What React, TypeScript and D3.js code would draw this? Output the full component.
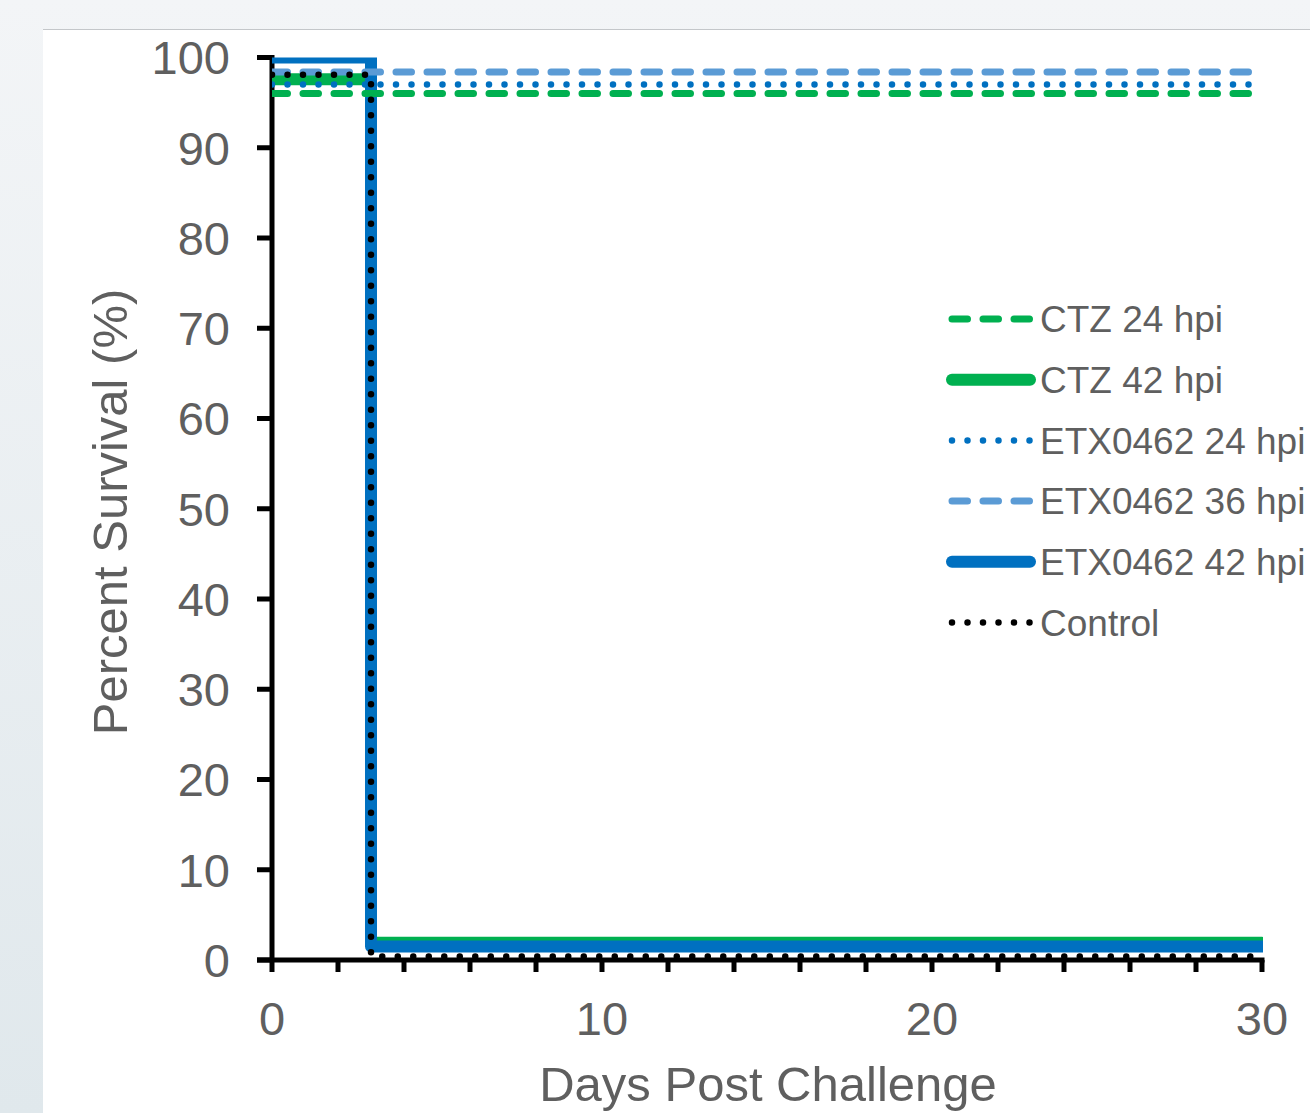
import * as d3 from "d3";
import { useEffect, useRef } from "react";

// survival data (day, percent)
const ctz24Days = [0, 30];
const ctz24Surv = [96.0, 96.0];
const ctz42Days = [0, 3, 30];
const ctz42Surv = [97.6, 1.9, 1.9];
const etx24Days = [0, 30];
const etx24Surv = [97.0, 97.0];
const etx36Days = [0, 30];
const etx36Surv = [98.4, 98.4];
const etx42Days = [0, 3, 30];
const etx42Surv = [100, 1.5, 1.5];
const controlDays = [0, 3, 30];
const controlSurv = [98.1, 0.4, 0.4];

const legendLabels = ["CTZ 24 hpi", "CTZ 42 hpi", "ETX0462 24 hpi", "ETX0462 36 hpi", "ETX0462 42 hpi", "Control"];
const yTicks = [0, 10, 20, 30, 40, 50, 60, 70, 80, 90, 100];
const xTickLabels = [0, 10, 20, 30];
const xMinorTicks = d3.range(0, 31, 2);

const FONT = "'Liberation Sans', Arial, sans-serif";
const GREEN = "#00B050";
const BLUE = "#0070C0";
const LIGHT_BLUE = "#5B9BD5";
const TEXT = "#5f5f5f";

const App = () => {
    const ref = useRef<SVGSVGElement>(null);

    useEffect(() => {
        renderChart(ref.current);
    }, []);

    return (
        <div>
            <style>{`body{margin:0}`}</style>
            <svg ref={ref} width="1310" height="1113" style={{ display: "block" }} />
        </div>
    );
};

const renderChart = (node: SVGSVGElement | null) => {
    if (!node) return;
    const svg = d3.select(node);
    svg.selectAll("*").remove();

    const left = 272, right = 1262, top = 57.5, bottom = 960;

    // page background + white panel
    const defs = svg.append("defs");
    const grad = defs.append("linearGradient").attr("id", "bg").attr("x1", 0).attr("y1", 0).attr("x2", 0).attr("y2", 1);
    grad.append("stop").attr("offset", "0%").attr("stop-color", "#f3f5f7");
    grad.append("stop").attr("offset", "100%").attr("stop-color", "#e0e8ec");
    svg.append("rect").attr("width", 1310).attr("height", 1113).attr("fill", "url(#bg)");
    svg.append("rect").attr("x", 43).attr("y", 30).attr("width", 1267).attr("height", 1083).attr("fill", "#fff");
    svg.append("line").attr("x1", 43).attr("x2", 1310).attr("y1", 29.5).attr("y2", 29.5)
        .attr("stroke", "#c4c7ca").attr("stroke-width", 1);

    defs.append("clipPath").attr("id", "plot-clip")
        .append("rect").attr("x", left).attr("y", top).attr("width", right - left + 1).attr("height", bottom - top);

    const x = d3.scaleLinear().domain([0, 30]).range([left, right]);
    const y = d3.scaleLinear().domain([0, 100]).range([bottom, top]);

    // axes
    const axisG = svg.append("g");
    axisG.append("line").attr("x1", left).attr("x2", left).attr("y1", 55).attr("y2", bottom + 2)
        .attr("stroke", "#000").attr("stroke-width", 5);
    axisG.append("line").attr("x1", 257).attr("x2", right + 2.5).attr("y1", bottom).attr("y2", bottom)
        .attr("stroke", "#000").attr("stroke-width", 5);

    axisG.selectAll(".ytick").data(yTicks).enter().append("line")
        .attr("x1", 257).attr("x2", left).attr("y1", d => y(d)).attr("y2", d => y(d))
        .attr("stroke", "#000").attr("stroke-width", 5);

    axisG.selectAll(".xtick").data(xMinorTicks).enter().append("line")
        .attr("x1", d => x(d)).attr("x2", d => x(d)).attr("y1", bottom).attr("y2", bottom + 12)
        .attr("stroke", "#000").attr("stroke-width", 5);

    axisG.selectAll(".ylab").data(yTicks).enter().append("text")
        .attr("x", 230).attr("y", d => y(d)).attr("dy", "0.36em")
        .attr("text-anchor", "end").attr("font-family", FONT).attr("font-size", 47).attr("fill", TEXT)
        .text(d => d);

    axisG.selectAll(".xlab").data(xTickLabels).enter().append("text")
        .attr("x", d => x(d)).attr("y", 1035)
        .attr("text-anchor", "middle").attr("font-family", FONT).attr("font-size", 47).attr("fill", TEXT)
        .text(d => d);

    svg.append("text").attr("x", 768).attr("y", 1101).attr("text-anchor", "middle")
        .attr("font-family", FONT).attr("font-size", 49).attr("fill", TEXT)
        .text("Days Post Challenge");

    svg.append("text").attr("transform", "translate(127,512) rotate(-90)").attr("text-anchor", "middle")
        .attr("font-family", FONT).attr("font-size", 49).attr("fill", TEXT)
        .text("Percent Survival (%)");

    // series, in drawing order
    const styles = [
        { days: ctz42Days, surv: ctz42Surv, color: GREEN, width: 12, dash: null, label: 1 },
        { days: etx42Days, surv: etx42Surv, color: BLUE, width: 12, dash: null, label: 4 },
        { days: ctz24Days, surv: ctz24Surv, color: GREEN, width: 7, dash: "15.5 15.5", label: 0 },
        { days: etx24Days, surv: etx24Surv, color: BLUE, width: 6.5, dash: "0 15.5", label: 2 },
        { days: etx36Days, surv: etx36Surv, color: LIGHT_BLUE, width: 7, dash: "15.5 15.5", label: 3 },
        { days: controlDays, surv: controlSurv, color: "#000", width: 6.5, dash: "0 15.5", label: 5 },
    ];

    const line = d3.line<[number, number]>()
        .x(d => x(d[0]))
        .y(d => y(d[1]))
        .curve(d3.curveStepAfter);

    const plotG = svg.append("g").attr("clip-path", "url(#plot-clip)");
    styles.forEach(s => {
        const pts = s.days.map((d, i) => [d, s.surv[i]] as [number, number]);
        plotG.append("path")
            .attr("d", line(pts))
            .attr("fill", "none")
            .attr("stroke", s.color)
            .attr("stroke-width", s.width)
            .attr("stroke-linecap", "round")
            .attr("stroke-linejoin", "round")
            .attr("stroke-dasharray", s.dash);
    });

    // legend
    const legendG = svg.append("g");
    const rowY = (i: number) => 319 + i * 60.7;
    const byLabel = styles.slice().sort((a, b) => a.label - b.label);
    byLabel.forEach((s, i) => {
        legendG.append("line")
            .attr("x1", 952).attr("x2", 1030).attr("y1", rowY(i)).attr("y2", rowY(i))
            .attr("stroke", s.color)
            .attr("stroke-width", s.width)
            .attr("stroke-linecap", "round")
            .attr("stroke-dasharray", s.dash);
        legendG.append("text")
            .attr("x", 1040).attr("y", rowY(i)).attr("dy", "0.36em")
            .attr("font-family", FONT).attr("font-size", 37).attr("fill", TEXT)
            .text(legendLabels[s.label]);
    });
};

export default App;
